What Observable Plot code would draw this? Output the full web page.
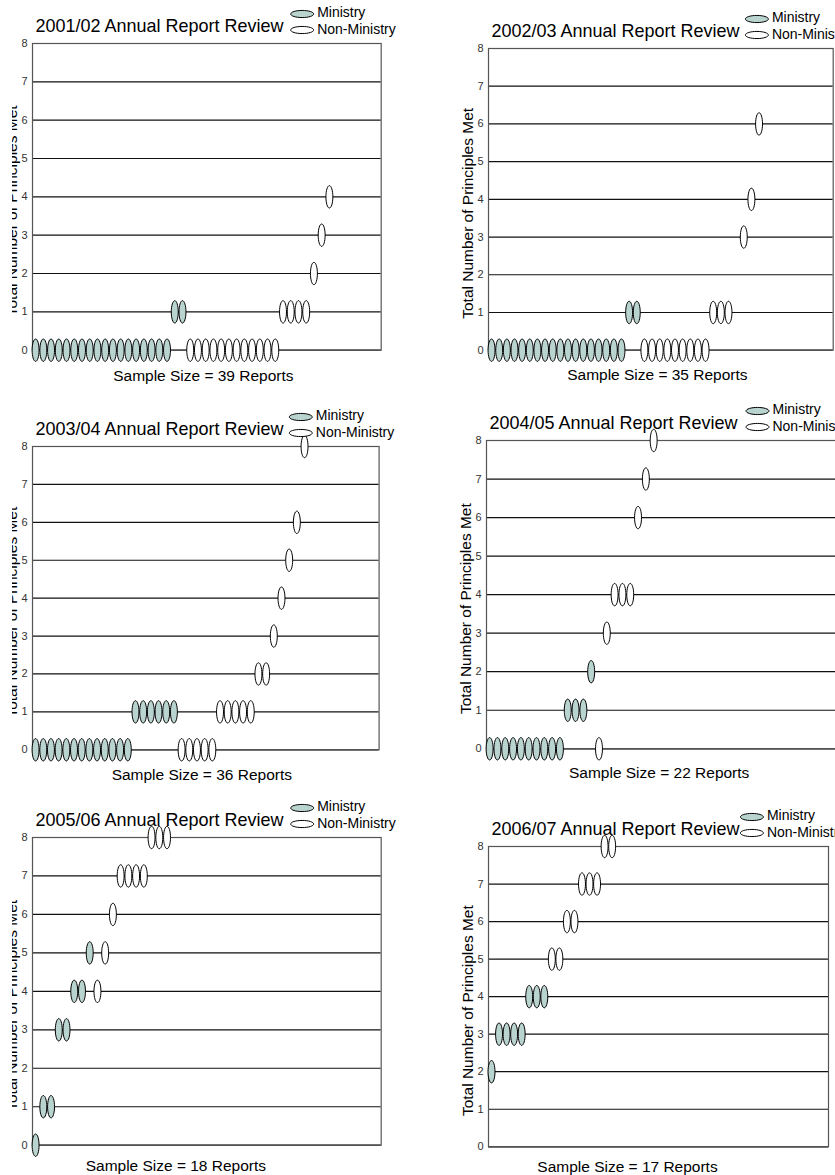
<!DOCTYPE html>
<html><head><meta charset="utf-8">
<script src="https://cdn.jsdelivr.net/npm/d3@7"></script>
<script src="https://cdn.jsdelivr.net/npm/@observablehq/plot@0.6"></script>
<style>
html,body{margin:0;padding:0;background:#fff;overflow:hidden;width:835px;height:1175px;}
#page{position:relative;width:835px;height:1175px;overflow:hidden;}
#leftcol{position:absolute;left:12px;top:0;width:420px;height:1175px;overflow:hidden;}
</style></head>
<body><div id="page"><div id="leftcol"></div></div>
<script>
// ---------- data ----------
const reviewYears = ["2001/02", "2002/03", "2003/04", "2004/05", "2005/06", "2006/07"];
const sampleSizes = [39, 35, 36, 22, 18, 17];
const scoreLevels = [0, 1, 2, 3, 4, 5, 6, 7, 8];
const groupNames = ["Ministry", "Non-Ministry"];
// runs of reports: [principles met, order of first report in the row, number of reports]
const ministry0102 = [[0, 0, 18], [1, 18, 2]];
const nonMinistry0102 = [[0, 20, 12], [1, 32, 4], [2, 36, 1], [3, 37, 1], [4, 38, 1]];
const ministry0203 = [[0, 0, 18], [1, 18, 2]];
const nonMinistry0203 = [[0, 20, 9], [1, 29, 3], [3, 33, 1], [4, 34, 1], [6, 35, 1]];
const ministry0304 = [[0, 0, 13], [1, 13, 6]];
const nonMinistry0304 = [[0, 19, 5], [1, 24, 5], [2, 29, 2], [3, 31, 1], [4, 32, 1], [5, 33, 1], [6, 34, 1], [8, 35, 1]];
const ministry0405 = [[0, 0, 10], [1, 10, 3], [2, 13, 1]];
const nonMinistry0405 = [[0, 14, 1], [3, 15, 1], [4, 16, 3], [6, 19, 1], [7, 20, 1], [8, 21, 1]];
const ministry0506 = [[0, 0, 1], [1, 1, 2], [3, 3, 2], [4, 5, 2], [5, 7, 1]];
const nonMinistry0506 = [[4, 8, 1], [5, 9, 1], [6, 10, 1], [7, 11, 4], [8, 15, 3]];
const ministry0607 = [[2, 0, 1], [3, 1, 4], [4, 5, 3]];
const nonMinistry0607 = [[5, 8, 2], [6, 10, 2], [7, 12, 3], [8, 15, 2]];

const ministryRuns = [ministry0102, ministry0203, ministry0304, ministry0405, ministry0506, ministry0607];
const nonMinistryRuns = [nonMinistry0102, nonMinistry0203, nonMinistry0304, nonMinistry0405, nonMinistry0506, nonMinistry0607];

// ---------- layout (page pixels) ----------
const layout = [
  {fl: 32.3, fr: 381, y8: 43.3, y0: 350, col: 0, sdx: -3.5, sdy: 30.5},
  {fl: 488.3, fr: 833, y8: 48.3, y0: 350, col: 1, sdx: -3.5, sdy: 30},
  {fl: 31.7, fr: 378.3, y8: 445.7, y0: 749, col: 0, sdx: -4, sdy: 30},
  {fl: 485.7, fr: 838, y8: 440, y0: 748.3, col: 1, sdx: -3.5, sdy: 29.7},
  {fl: 32.3, fr: 381, y8: 837.3, y0: 1145, col: 0, sdx: -31, sdy: 26},
  {fl: 488.3, fr: 828.3, y8: 845.7, y0: 1146, col: 1, sdx: -31, sdy: 25.7}
];
const legendDx = [269.7, 268.4, 268.3, 271, 269.7, 263.4];

const ministryFill = "#b9d3cf";
const font = "'Liberation Sans', Arial, Helvetica, sans-serif";

function ellipseSymbol(ax, ay) {
  return {
    draw(ctx, size) {
      const r = Math.sqrt(size / Math.PI);
      const rx = r * ax, ry = r * ay, k = 0.5522847498;
      ctx.moveTo(0, -ry);
      ctx.bezierCurveTo(k * rx, -ry, rx, -k * ry, rx, 0);
      ctx.bezierCurveTo(rx, k * ry, k * rx, ry, 0, ry);
      ctx.bezierCurveTo(-k * rx, ry, -rx, k * ry, -rx, 0);
      ctx.bezierCurveTo(-rx, -k * ry, -k * rx, -ry, 0, -ry);
      ctx.closePath();
    }
  };
}
const tallEllipse = ellipseSymbol(0.31, 1);
const wideEllipse = ellipseSymbol(1, 0.31);

function expandRuns(runs, group) {
  const out = [];
  for (const [score, first, count] of runs)
    for (let k = 0; k < count; k++) out.push({group, score, order: first + k});
  return out;
}

const mL = 50, mR = 60, mT = 50, mB = 40;

reviewYears.forEach((year, i) => {
  const L = layout[i];
  const fw = L.fr - L.fl, fh = L.y0 - L.y8;
  const dots = [...expandRuns(ministryRuns[i], groupNames[0]), ...expandRuns(nonMinistryRuns[i], groupNames[1])]
    .sort((a, b) => a.order - b.order);
  const ldx = legendDx[i];
  const chart = Plot.plot({
    width: mL + fw + mR,
    height: mT + fh + mB,
    marginLeft: mL, marginRight: mR, marginTop: mT, marginBottom: mB,
    style: {fontFamily: font, background: "transparent", overflow: "visible", maxWidth: "none"},
    x: {domain: [-0.4, 44.7], axis: null},
    y: {domain: [0, 8]},
    marks: [
      Plot.ruleY(scoreLevels, {stroke: "#111", strokeWidth: 1.2}),
      Plot.frame({stroke: "#555", strokeWidth: 1.2}),
      Plot.axisY(scoreLevels, {tickSize: 0, tickPadding: 5, fontSize: 11, fill: "#333", label: null}),
      Plot.dot(dots, {
        x: "order", y: "score", symbol: tallEllipse, r: 11.2,
        fill: d => d.group === groupNames[0] ? ministryFill : "white",
        stroke: "#000", strokeWidth: 1
      }),
      Plot.text([`${year} Annual Report Review`], {frameAnchor: "top-left", textAnchor: "start", lineAnchor: "bottom", dx: 3, dy: -11, fontSize: 18, fill: "#000"}),
      Plot.dot([groupNames[0]], {frameAnchor: "top-left", dx: ldx, dy: -29.5, symbol: wideEllipse, r: 11.5, fill: ministryFill, stroke: "#000", strokeWidth: 1}),
      Plot.dot([groupNames[1]], {frameAnchor: "top-left", dx: ldx, dy: -13.5, symbol: wideEllipse, r: 11.5, fill: "white", stroke: "#000", strokeWidth: 1}),
      Plot.text([groupNames[0]], {frameAnchor: "top-left", textAnchor: "start", lineAnchor: "middle", dx: ldx + 15, dy: -30.5, fontSize: 14, fill: "#000"}),
      Plot.text([groupNames[1]], {frameAnchor: "top-left", textAnchor: "start", lineAnchor: "middle", dx: ldx + 15, dy: -14, fontSize: 14, fill: "#000"}),
      Plot.text(["Total Number of Principles Met"], {frameAnchor: "left", rotate: -90, textAnchor: "middle", lineAnchor: "middle", dx: -20.7, dy: 14, fontSize: 15.5, fill: "#000"}),
      Plot.text([`Sample Size = ${sampleSizes[i]} Reports`], {frameAnchor: "bottom", textAnchor: "middle", lineAnchor: "bottom", dx: L.sdx, dy: L.sdy, fontSize: 15.5, fill: "#000"})
    ]
  });
  chart.style.position = "absolute";
  chart.style.top = (L.y8 - mT) + "px";
  if (L.col === 0) {
    chart.style.left = (L.fl - mL - 12) + "px";
    document.getElementById("leftcol").appendChild(chart);
  } else {
    chart.style.left = (L.fl - mL) + "px";
    document.getElementById("page").appendChild(chart);
  }
});
</script>
</body></html>
